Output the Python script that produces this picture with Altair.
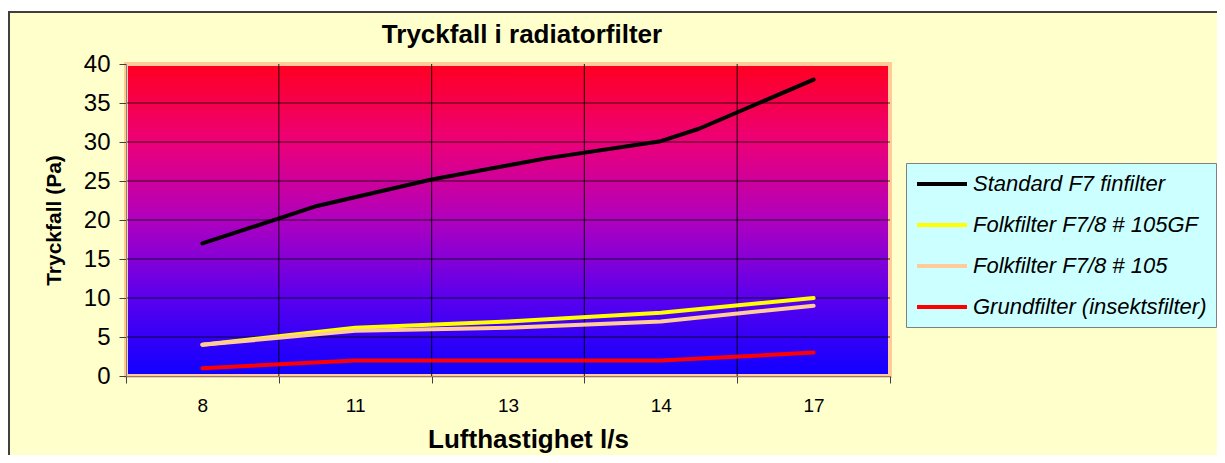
import altair as alt
import pandas as pd

# ---- data ----
chart_title = "Tryckfall i radiatorfilter"
categories = ["8", "11", "13", "14", "17"]
cat_pos = [0, 1, 2, 3, 4]
standard_pos = [0, 0.75, 1.5, 2.25, 3, 3.25, 4]
standard = [17.0, 21.8, 25.2, 27.9, 30.1, 31.7, 38.0]
folk_gf = [4.0, 6.2, 7.0, 8.1, 10.0]
folk_105 = [4.0, 5.8, 6.2, 7.0, 9.0]
grund = [1.0, 2.0, 2.0, 2.0, 3.0]

series_names = ["Standard F7 finfilter", "Folkfilter F7/8 # 105GF",
                "Folkfilter F7/8 # 105", "Grundfilter (insektsfilter)"]
series_colors = ["#000000", "#FFFF00", "#FFCC99", "#FF0000"]
series_widths = [4, 4, 4, 1.6]
y_ticks = [0, 5, 10, 15, 20, 25, 30, 35, 40]
x_bounds = [-0.5, 0.5, 1.5, 2.5, 3.5, 4.5]

rows = []
for p, v in zip(standard_pos, standard):
    rows.append({"series": series_names[0], "x": p, "y": v})
for name, vals in zip(series_names[1:], [folk_gf, folk_105, grund]):
    for p, v in zip(cat_pos, vals):
        rows.append({"series": name, "x": p, "y": v})
df = pd.DataFrame(rows)

W, H = 764, 312
PL, PT = 118, 56
PR, PB = 1209 - PL - W, 447 - PT - H
FONT = "Liberation Sans"
step = W / len(categories)

xscale = alt.Scale(domain=[x_bounds[0], x_bounds[-1]], nice=False, zero=False)
yscale = alt.Scale(domain=[y_ticks[0], y_ticks[-1]], nice=False, zero=False)

label_arr = "[" + ",".join("'" + c + "'" for c in categories) + ",'']"
x_axis = alt.Axis(values=x_bounds, labelExpr=label_arr + "[round(datum.value + 0.5)]",
                  labelOffset=step / 2, labelFlush=False, labelOverlap=False, grid=False,
                  tickSize=7, tickColor="#404040", domainColor="#808080", zindex=1,
                  labelFont=FONT, labelFontSize=19, labelColor="#000000", labelPadding=13,
                  title="Lufthastighet l/s", titleFont=FONT, titleFontSize=26,
                  titleFontWeight="bold", titleColor="#000000", titlePadding=11,
                  titleX=W / 2 + 20)
y_axis = alt.Axis(values=y_ticks, grid=False, tickSize=7, tickColor="#404040",
                  domainColor="#808080", zindex=1, labelFont=FONT, labelFontSize=24,
                  labelColor="#000000", labelPadding=9, title="Tryckfall (Pa)",
                  titleFont=FONT, titleFontSize=21, titleFontWeight="bold",
                  titleColor="#000000", titlePadding=19)

one = alt.Data(values=[{"a": 1}])

frame = alt.Chart(one).mark_rect(fill="#FFFFCC", stroke="#404040", strokeWidth=2).encode(
    x=alt.value(-PL + 1), x2=alt.value(W + PR + 10),
    y=alt.value(-PT + 4), y2=alt.value(H + PB + 10))

gradient = {"gradient": "linear", "x1": 0, "y1": 0, "x2": 0, "y2": 1,
            "stops": [{"offset": 0, "color": "#FF0020"},
                      {"offset": 0.25, "color": "#EC0078"},
                      {"offset": 0.5, "color": "#B000BE"},
                      {"offset": 0.75, "color": "#5A00EE"},
                      {"offset": 1, "color": "#1000FF"}]}
plotbg = alt.Chart(one).mark_rect(fill=gradient, stroke="#FFCC99", strokeWidth=4).encode(
    x=alt.value(0), x2=alt.value(W), y=alt.value(0), y2=alt.value(H))

title_mark = alt.Chart(alt.Data(values=[{"t": chart_title}])).mark_text(
    font=FONT, fontSize=26, fontWeight="bold", color="#000000",
    align="center", baseline="middle").encode(
    text="t:N", x=alt.value(W / 2 + 14), y=alt.value(-29))

vgrid = alt.Chart(pd.DataFrame({"g": x_bounds[1:-1]})).mark_rule(
    color="#000000", strokeWidth=1.2, opacity=0.75).encode(
    x=alt.X("g:Q", scale=xscale, axis=x_axis))
hgrid = alt.Chart(pd.DataFrame({"g": y_ticks[1:-1]})).mark_rule(
    color="#000000", strokeWidth=1.2, opacity=0.75).encode(
    y=alt.Y("g:Q", scale=yscale, axis=y_axis))

lines = alt.Chart(df).mark_line(strokeCap="round", strokeJoin="round").encode(
    x=alt.X("x:Q", scale=xscale, axis=x_axis),
    y=alt.Y("y:Q", scale=yscale, axis=y_axis),
    color=alt.Color("series:N", sort=series_names,
                    scale=alt.Scale(domain=series_names, range=series_colors),
                    legend=alt.Legend(orient="none", legendX=780, legendY=99, title=None,
                                      symbolType="M-2.5,0H2.5", symbolSize=400,
                                      labelFont=FONT, labelFontSize=22,
                                      labelFontStyle="italic", labelColor="#000000",
                                      fillColor="#CCFFFF", strokeColor="#808080",
                                      padding=9, rowPadding=18, symbolOffset=15,
                                      labelOffset=19, labelLimit=400, zindex=2)),
    strokeWidth=alt.StrokeWidth("series:N", sort=series_names,
                                scale=alt.Scale(domain=series_names, range=series_widths)),
    order=alt.Order("x:Q"),
)

chart = alt.layer(frame, plotbg, title_mark, vgrid, hgrid, lines).properties(
    width=W, height=H,
    autosize=alt.AutoSizeParams(type="none"),
    padding={"left": PL, "top": PT, "right": PR, "bottom": PB},
).configure(background="white").configure_view(stroke=None)

chart.save("out.html", embed_options={"renderer": "svg", "actions": False})
